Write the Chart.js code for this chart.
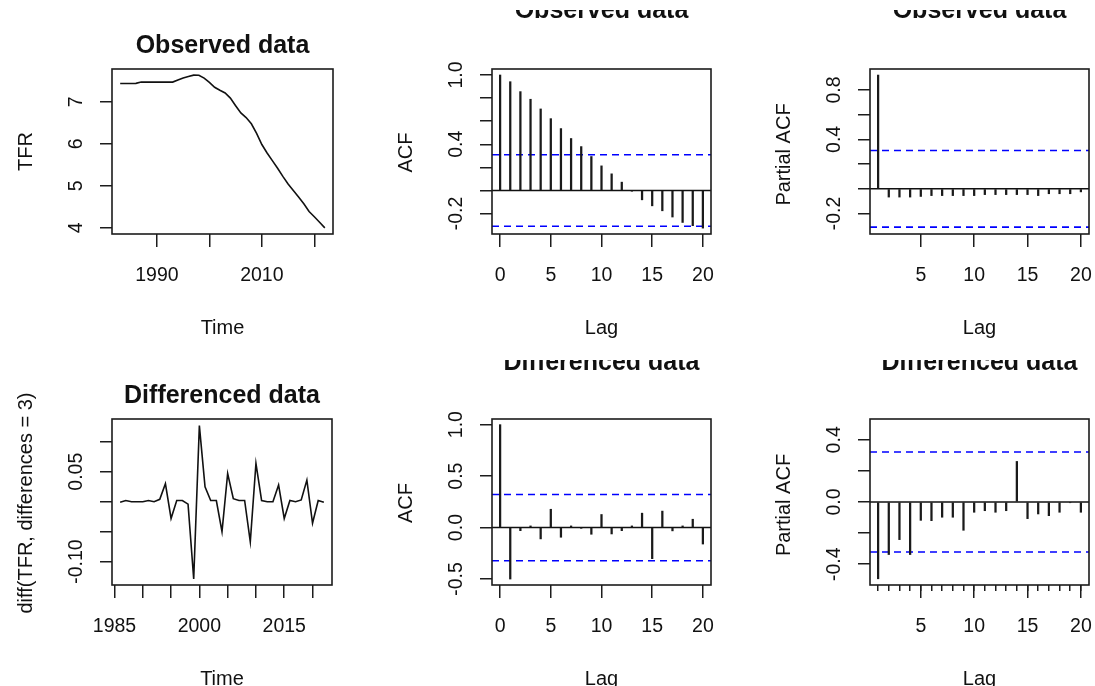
<!DOCTYPE html>
<html>
<head>
<meta charset="utf-8">
<script src="https://cdn.jsdelivr.net/npm/chart.js@4/dist/chart.umd.min.js"></script>
<style>
html,body{margin:0;padding:0;background:#fff;}
#wrap{position:relative;width:1095px;height:686px;overflow:hidden;background:#fff;}
#wrap canvas{position:absolute;left:0;top:0;}
</style>
</head>
<body>
<div id="wrap"></div>
<script>
// ---------------- DATA ----------------
const obsYears = [1983,1984,1985,1986,1987,1988,1989,1990,1991,1992,1993,1994,1995,1996,1997,1998,1999,2000,2001,2002,2003,2004,2005,2006,2007,2008,2009,2010,2011,2012,2013,2014,2015,2016,2017,2018,2019,2020,2021,2022];
const obsTFR = [7.435,7.435,7.435,7.437,7.467,7.467,7.467,7.467,7.467,7.467,7.467,7.517,7.566,7.602,7.633,7.630,7.560,7.460,7.343,7.272,7.209,7.087,6.906,6.733,6.624,6.476,6.246,5.983,5.782,5.600,5.419,5.225,5.043,4.887,4.736,4.574,4.390,4.264,4.134,4.000];

const diffYears = [1986,1987,1988,1989,1990,1991,1992,1993,1994,1995,1996,1997,1998,1999,2000,2001,2002,2003,2004,2005,2006,2007,2008,2009,2010,2011,2012,2013,2014,2015,2016,2017,2018,2019,2020,2021,2022];
const diffTFR = [-0.001,0.002,0.000,0.000,0.000,0.002,0.000,0.004,0.030,-0.028,0.002,0.002,-0.004,-0.129,0.127,0.025,0.002,0.002,-0.050,0.047,0.005,0.002,0.002,-0.067,0.064,0.002,0.000,0.000,0.028,-0.028,0.002,0.000,0.003,0.036,-0.036,0.002,-0.001];

const acfLags = [0,1,2,3,4,5,6,7,8,9,10,11,12,13,14,15,16,17,18,19,20];
const pacfLags = [1,2,3,4,5,6,7,8,9,10,11,12,13,14,15,16,17,18,19,20];

const acfObs = [1.000,0.942,0.856,0.790,0.706,0.622,0.536,0.450,0.380,0.294,0.213,0.144,0.072,-0.005,-0.081,-0.133,-0.176,-0.230,-0.277,-0.305,-0.326];
const pacfObs = [0.921,-0.067,-0.067,-0.067,-0.062,-0.055,-0.055,-0.055,-0.055,-0.055,-0.047,-0.047,-0.047,-0.047,-0.047,-0.055,-0.040,-0.040,-0.040,-0.025];
const acfDiff = [1.000,-0.500,-0.030,0.016,-0.110,0.178,-0.094,0.016,-0.005,-0.065,0.127,-0.062,-0.030,0.016,0.140,-0.302,0.160,-0.032,0.016,0.081,-0.160];
const pacfDiff = [-0.494,-0.338,-0.242,-0.338,-0.118,-0.120,-0.098,-0.098,-0.182,-0.066,-0.056,-0.066,-0.056,0.261,-0.107,-0.077,-0.088,-0.066,-0.004,-0.066];

const ciObs = 0.310;
const ciDiff = 0.322;

// axis ranges
const obsXRange = [1981.44, 2023.56];
const obsYRange = [3.855, 7.778];
const diffXRange = [1984.56, 2023.44];
const diffYRange = [-0.139, 0.138];
const acfXRange = [-0.8, 20.8];
const pacfXRange = [0.24, 20.76];
const acfObsYRange = [-0.377, 1.052];
const pacfObsYRange = [-0.366, 0.970];
const acfDiffYRange = [-0.558, 1.055];
const pacfDiffYRange = [-0.534, 0.534];

// ticks & tick labels
const obsXTicks = [1990,2000,2010,2020];
const obsXLabels = ['1990','','2010',''];
const obsYTicks = [4,5,6,7];
const obsYLabels = ['4','5','6','7'];
const diffXTicks = [1985,1990,1995,2000,2005,2010,2015,2020];
const diffXLabels = ['1985','','','2000','','','2015',''];
const diffYTicks = [-0.10,-0.05,0,0.05,0.10];
const diffYLabels = ['-0.10','','','0.05',''];
const acfXTicks = [0,5,10,15,20];
const acfXLabels = ['0','5','10','15','20'];
const pacfXTicks = [5,10,15,20];
const pacfXLabels = ['5','10','15','20'];
const pacfMinorTicks = [1,2,3,4,5,6,7,8,9,10,11,12,13,14,15,16,17,18,19,20];
const acfObsYTicks = [-0.2,0,0.2,0.4,0.6,0.8,1.0];
const acfObsYLabels = ['-0.2','','','0.4','','','1.0'];
const pacfObsYTicks = [-0.2,0,0.2,0.4,0.6,0.8];
const pacfObsYLabels = ['-0.2','','','0.4','','0.8'];
const acfDiffYTicks = [-0.5,0,0.5,1.0];
const acfDiffYLabels = ['-0.5','0.0','0.5','1.0'];
const pacfDiffYTicks = [-0.4,-0.2,0,0.2,0.4];
const pacfDiffYLabels = ['-0.4','','0.0','','0.4'];

// ---------------- STYLE / LAYOUT ----------------
const W = 1095, H = 686;
const FONT = "'Liberation Sans', Arial, Helvetica, sans-serif";
const INK = '#111111';
const AX = '#1c1c1c';
const BLUE = '#0000ff';

const panels = [
  {kind:'line', box:[112,69,333,234], xs:obsYears, ys:obsTFR, xr:obsXRange, yr:obsYRange,
   xt:obsXTicks, xl:obsXLabels, yt:obsYTicks, yl:obsYLabels,
   title:'Observed data', titleBase:53, clipTop:null, xTitle:'Time', yTitle:'TFR', yShift:0},
  {kind:'acf', box:[492,69,711,234], xs:acfLags, ys:acfObs, ci:ciObs, xr:acfXRange, yr:acfObsYRange,
   xt:acfXTicks, xl:acfXLabels, yt:acfObsYTicks, yl:acfObsYLabels,
   title:'Observed data', titleBase:18.3, clipTop:10, xTitle:'Lag', yTitle:'ACF', yShift:1},
  {kind:'acf', box:[870,69,1089,234], xs:pacfLags, ys:pacfObs, ci:ciObs, xr:pacfXRange, yr:pacfObsYRange,
   xt:pacfXTicks, xl:pacfXLabels, yt:pacfObsYTicks, yl:pacfObsYLabels,
   title:'Observed data', titleBase:18.3, clipTop:10, xTitle:'Lag', yTitle:'Partial ACF', yShift:3},
  {kind:'line', box:[112,419,332,585], xs:diffYears, ys:diffTFR, xr:diffXRange, yr:diffYRange,
   xt:diffXTicks, xl:diffXLabels, yt:diffYTicks, yl:diffYLabels,
   title:'Differenced data', titleBase:403, clipTop:null, xTitle:'Time', yTitle:'diff(TFR, differences = 3)', yShift:1},
  {kind:'acf', box:[492,419,711,585], xs:acfLags, ys:acfDiff, ci:ciDiff, xr:acfXRange, yr:acfDiffYRange,
   xt:acfXTicks, xl:acfXLabels, yt:acfDiffYTicks, yl:acfDiffYLabels,
   title:'Differenced data', titleBase:370, clipTop:360, xTitle:'Lag', yTitle:'ACF', yShift:1},
  {kind:'acf', box:[870,419,1089,585], xs:pacfLags, ys:pacfDiff, ci:ciDiff, xr:pacfXRange, yr:pacfDiffYRange,
   xt:pacfXTicks, xl:pacfXLabels, yt:pacfDiffYTicks, yl:pacfDiffYLabels, minor:pacfMinorTicks,
   title:'Differenced data', titleBase:370, clipTop:360, xTitle:'Lag', yTitle:'Partial ACF', yShift:3}
];

function makeAxis(pos, range, ticks, tickLen) {
  return {
    type:'linear', position:pos, min:range[0], max:range[1], offset:false,
    border:{display:false},
    grid:{display:true, drawOnChartArea:false, drawTicks:true, tickLength:tickLen, color:AX, lineWidth:1.5, offset:false},
    ticks:{display:false, autoSkip:false},
    afterBuildTicks: s => { s.ticks = ticks.map(v => ({value:v})); },
    afterFit: s => {
      if (pos === 'left') s.width = 0; else s.height = 0;
      s.paddingLeft = 0; s.paddingRight = 0; s.paddingTop = 0; s.paddingBottom = 0;
    }
  };
}

function rStyle(p) {
  return {
    id:'rstyle',
    afterDraw(chart) {
      const ctx = chart.ctx, a = chart.chartArea;
      const xs = chart.scales.x, ys = chart.scales.y;
      ctx.save();
      // box
      ctx.strokeStyle = AX; ctx.lineWidth = 1.6;
      ctx.strokeRect(a.left, a.top, a.right - a.left, a.bottom - a.top);
      ctx.fillStyle = INK;
      ctx.textAlign = 'center'; ctx.textBaseline = 'alphabetic';
      // x tick labels
      ctx.font = '19.5px ' + FONT;
      p.xt.forEach((v, i) => { const t = p.xl[i]; if (t) ctx.fillText(t, xs.getPixelForValue(v), a.bottom + 46.7); });
      // y tick labels (rotated, like R's las=0)
      p.yt.forEach((v, i) => {
        const t = p.yl[i]; if (!t) return;
        ctx.save(); ctx.translate(a.left - 30.5, ys.getPixelForValue(v)); ctx.rotate(-Math.PI/2);
        ctx.fillText(t, 0, 0); ctx.restore();
      });
      // axis titles
      ctx.font = '20px ' + FONT;
      ctx.fillText(p.xTitle, (a.left + a.right)/2, a.bottom + 99.5);
      ctx.save(); ctx.translate(a.left - 80, (a.top + a.bottom)/2 + p.yShift); ctx.rotate(-Math.PI/2);
      ctx.fillText(p.yTitle, 0, 0); ctx.restore();
      // main title (clipped for ACF panels)
      ctx.save();
      if (p.clipTop !== null) { ctx.beginPath(); ctx.rect(0, p.clipTop, W, H - p.clipTop); ctx.clip(); }
      ctx.font = 'bold 25px ' + FONT;
      ctx.fillText(p.title, (a.left + a.right)/2, p.titleBase);
      ctx.restore();
      ctx.restore();
    }
  };
}

Chart.defaults.font.family = FONT;
const wrap = document.getElementById('wrap');

panels.forEach(p => {
  const c = document.createElement('canvas');
  c.width = W; c.height = H;
  c.style.width = W + 'px'; c.style.height = H + 'px';
  wrap.appendChild(c);

  const pts = p.xs.map((x, i) => ({x:x, y:p.ys[i]}));
  let datasets;
  if (p.kind === 'line') {
    datasets = [{type:'line', data:pts, borderColor:INK, borderWidth:1.6, pointRadius:0, tension:0, fill:false}];
  } else {
    const hl = y => [{x:p.xr[0], y:y}, {x:p.xr[1], y:y}];
    datasets = [
      {type:'bar', data:pts, backgroundColor:'#1a1a1a', borderWidth:0, barThickness:1.6, grouped:false},
      {type:'line', data:hl(0), borderColor:INK, borderWidth:1.5, pointRadius:0, fill:false},
      {type:'line', data:hl(p.ci), borderColor:BLUE, borderWidth:1.6, borderDash:[7,5], pointRadius:0, fill:false},
      {type:'line', data:hl(-p.ci), borderColor:BLUE, borderWidth:1.6, borderDash:[7,5], pointRadius:0, fill:false}
    ];
  }

  const scales = {
    x: makeAxis('bottom', p.xr, p.xt, 13),
    y: makeAxis('left', p.yr, p.yt, 12)
  };
  if (p.minor) scales.xm = makeAxis('bottom', p.xr, p.minor, 6);

  new Chart(c, {
    type: p.kind === 'line' ? 'line' : 'bar',
    data: {datasets},
    options: {
      responsive:false, animation:false, devicePixelRatio:1, events:[],
      layout:{padding:{left:p.box[0], top:p.box[1], right:W - p.box[2], bottom:H - p.box[3]}},
      plugins:{legend:{display:false}, title:{display:false}, tooltip:{enabled:false}},
      scales
    },
    plugins:[rStyle(p)]
  });
});
</script>
</body>
</html>
